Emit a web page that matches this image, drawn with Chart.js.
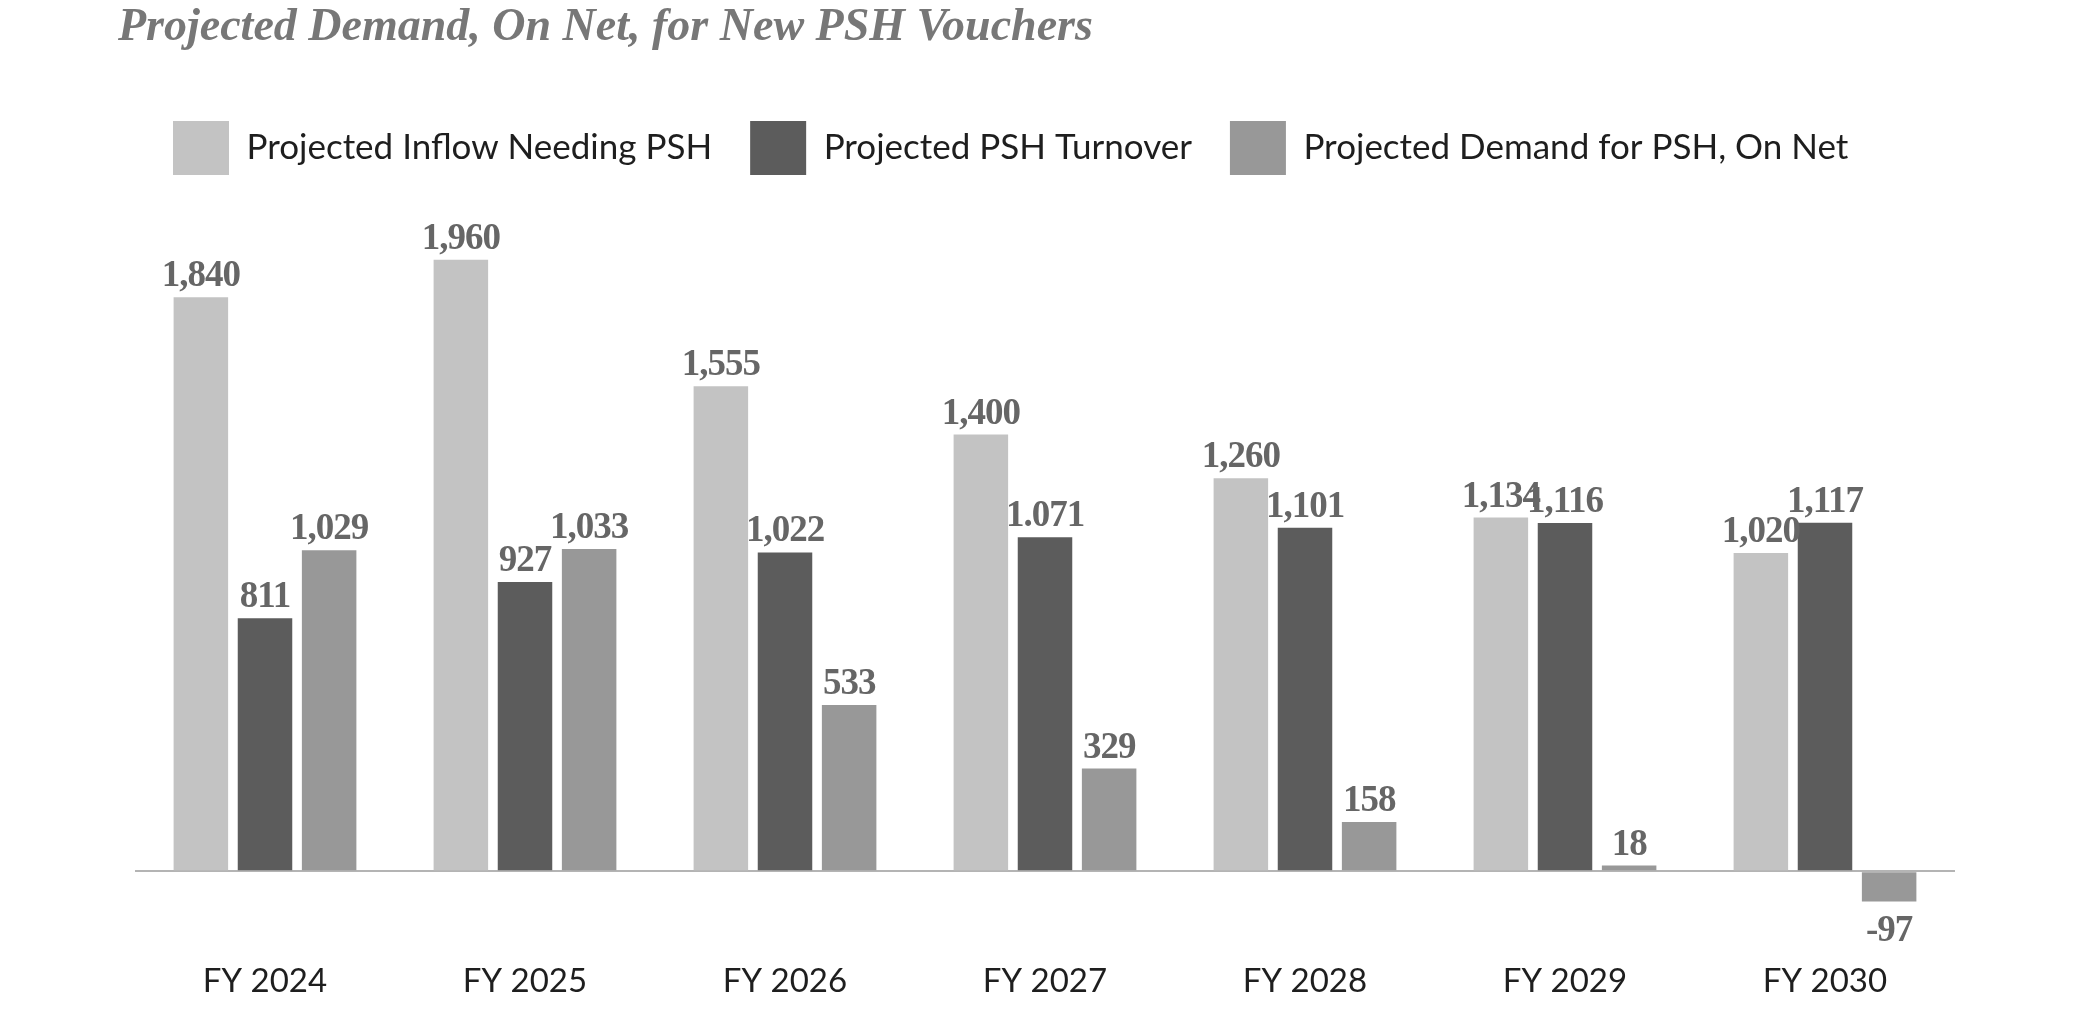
<!DOCTYPE html>
<html>
<head>
<meta charset="utf-8">
<script src="https://cdn.jsdelivr.net/npm/chart.js@4.4.0/dist/chart.umd.min.js"></script>
<style>
  html, body { margin: 0; padding: 0; background: #fff; overflow: hidden; }
  #wrap { position: relative; width: 2082px; height: 1013px; }
  #bar-chart { display: block; }
  #title {
    position: absolute; left: 118px; top: -3px; margin: 0;
    font-family: "Liberation Serif", serif; font-style: italic; font-weight: bold;
    font-size: 46px; line-height: 1.2; color: #777;
  }
</style>
</head>
<body>
<div id="wrap">
  <h1 id="title">Projected Demand, On Net, for New PSH Vouchers</h1>
  <canvas id="bar-chart" width="2082" height="1013"></canvas>
</div>
<script>
var categories = ['FY 2024', 'FY 2025', 'FY 2026', 'FY 2027', 'FY 2028', 'FY 2029', 'FY 2030'];
var inflow = [1840, 1960, 1555, 1400, 1260, 1134, 1020];
var turnover = [811, 927, 1022, 1071, 1101, 1116, 1117];
var netDemand = [1029, 1033, 533, 329, 158, 18, -97];
// the source prints 1,071 with a period
var labelOverride = { '1-3': '1.071' };

var valueLabels = {
  id: 'valueLabels',
  afterDatasetsDraw: function(chart) {
    var ctx = chart.ctx;
    ctx.save();
    ctx.font = 'bold 37px "Liberation Serif"';
    ctx.letterSpacing = '-1px';
    ctx.fillStyle = '#666';
    ctx.textAlign = 'center';
    ctx.textBaseline = 'alphabetic';
    chart.data.datasets.forEach(function(ds, i) {
      var meta = chart.getDatasetMeta(i);
      meta.data.forEach(function(bar, j) {
        var v = ds.data[j];
        var txt = labelOverride[i + '-' + j] || v.toLocaleString('en-US');
        if (v >= 0) {
          ctx.fillText(txt, bar.x, bar.y - 11);
        } else {
          ctx.fillText(txt, bar.x, bar.y + 40);
        }
      });
    });
    ctx.restore();
  }
};

var barChart = new Chart(document.getElementById('bar-chart'), {
  type: 'bar',
  data: {
    labels: categories,
    datasets: [
      { label: 'Projected Inflow Needing PSH', backgroundColor: '#c3c3c3', data: inflow },
      { label: 'Projected PSH Turnover', backgroundColor: '#5c5c5c', data: turnover },
      { label: 'Projected Demand for PSH, On Net', backgroundColor: '#989898', data: netDemand }
    ]
  },
  options: {
    responsive: false,
    animation: false,
    devicePixelRatio: 1,
    categoryPercentage: 0.74,
    barPercentage: 0.85,
    layout: { padding: { left: 135, right: 127, top: 83, bottom: 4 } },
    plugins: {
      title: { display: false },
      tooltip: { enabled: false },
      legend: {
        display: true,
        align: 'start',
        labels: {
          boxWidth: 56,
          boxHeight: 54,
          padding: 38,
          color: '#1e1e1e',
          font: { family: 'Lato', size: 35 }
        }
      }
    },
    scales: {
      x: {
        grid: { display: false, drawTicks: false },
        border: { display: false },
        ticks: { color: '#1e1e1e', padding: 44, font: { family: 'Lato', size: 33 } },
        afterFit: function(s) { s.height = 91; }
      },
      y: {
        min: -150,
        max: 2200,
        ticks: { display: false, stepSize: 50 },
        border: { display: false },
        grid: {
          drawTicks: false,
          lineWidth: 2,
          color: function(c) { return c.tick && c.tick.value === 0 ? '#b4b4b4' : 'rgba(0,0,0,0)'; }
        },
        afterFit: function(s) { s.width = 0; }
      }
    }
  },
  plugins: [valueLabels]
});
</script>
</body>
</html>
